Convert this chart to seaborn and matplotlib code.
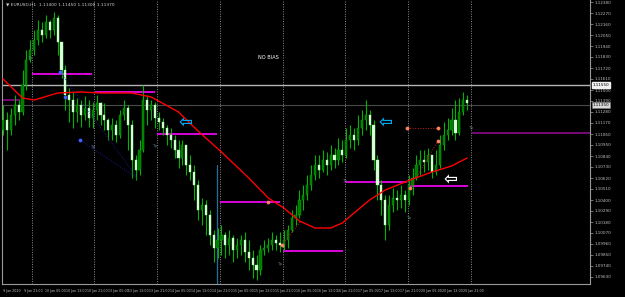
import matplotlib
matplotlib.use("Agg")
import matplotlib.pyplot as plt
import matplotlib.transforms as mtransforms
import numpy as np
import pandas as pd
import seaborn as sns

sns.set_theme(style="dark")
plt.rcParams['font.family'] = ['DejaVu Sans']

# ---------------- data (EURUSD) ----------------
first_open = 1.1110
close = [1.1120, 1.1110, 1.1125, 1.1135, 1.1128, 1.1155, 1.1180, 1.1190, 1.1200, 1.1210,
         1.1205, 1.1218, 1.1210, 1.1222, 1.1198, 1.1170, 1.1145, 1.1140, 1.1128, 1.1135,
         1.1125, 1.1132, 1.1122, 1.1130, 1.1137, 1.1125, 1.1120, 1.1110, 1.1115, 1.1105,
         1.1125, 1.1132, 1.1115, 1.1080, 1.1070, 1.1090, 1.1140, 1.1130, 1.1135, 1.1122,
         1.1118, 1.1112, 1.1105, 1.1100, 1.1090, 1.1082, 1.1095, 1.1075, 1.1068, 1.1055,
         1.1030, 1.1035, 1.1025, 1.1005, 1.0992, 1.1000, 1.1005, 1.0995, 1.1002, 1.0990,
         1.0995, 1.1000, 1.0988, 1.0982, 1.0975, 1.0970, 1.0990, 1.0992, 1.0995, 1.1000,
         1.0997, 1.0995, 1.1000, 1.1010, 1.1022, 1.1025, 1.1040, 1.1045, 1.1055, 1.1065,
         1.1075, 1.1070, 1.1080, 1.1075, 1.1085, 1.1080, 1.1090, 1.1085, 1.1100, 1.1105,
         1.1100, 1.1112, 1.1120, 1.1125, 1.1115, 1.1080, 1.1055, 1.1040, 1.1015, 1.1035,
         1.1042, 1.1040, 1.1045, 1.1040, 1.1055, 1.1062, 1.1075, 1.1080, 1.1078, 1.1085,
         1.1068, 1.1075, 1.1095, 1.1105, 1.1110, 1.1120, 1.1107, 1.1128, 1.1140, 1.1137]
high = [1.1135, 1.1128, 1.1132, 1.1145, 1.1140, 1.1170, 1.1190, 1.1200, 1.1210, 1.1220,
        1.1218, 1.1225, 1.1220, 1.1228, 1.1225, 1.1195, 1.1175, 1.1152, 1.1148, 1.1142,
        1.1140, 1.1144, 1.1140, 1.1138, 1.1145, 1.1138, 1.1137, 1.1122, 1.1122, 1.1120,
        1.1130, 1.1140, 1.1135, 1.1120, 1.1085, 1.1100, 1.1155, 1.1145, 1.1140, 1.1138,
        1.1128, 1.1122, 1.1115, 1.1112, 1.1105, 1.1100, 1.1100, 1.1095, 1.1085, 1.1075,
        1.1060, 1.1042, 1.1040, 1.1030, 1.1010, 1.1012, 1.1015, 1.1008, 1.1010, 1.1005,
        1.1002, 1.1005, 1.1008, 1.1000, 1.0990, 1.0985, 1.0995, 1.1000, 1.1002, 1.1008,
        1.1005, 1.1008, 1.1010, 1.1015, 1.1030, 1.1035, 1.1050, 1.1055, 1.1065, 1.1075,
        1.1085, 1.1085, 1.1090, 1.1088, 1.1095, 1.1092, 1.1102, 1.1100, 1.1112, 1.1115,
        1.1112, 1.1125, 1.1130, 1.1140, 1.1130, 1.1120, 1.1085, 1.1060, 1.1045, 1.1045,
        1.1052, 1.1050, 1.1055, 1.1050, 1.1065, 1.1072, 1.1085, 1.1090, 1.1090, 1.1092,
        1.1085, 1.1090, 1.1105, 1.1118, 1.1122, 1.1132, 1.1140, 1.1142, 1.1148, 1.1145]
low = [1.1105, 1.1090, 1.1105, 1.1115, 1.1120, 1.1125, 1.1150, 1.1178, 1.1185, 1.1195,
       1.1198, 1.1202, 1.1202, 1.1205, 1.1185, 1.1162, 1.1130, 1.1118, 1.1112, 1.1118,
       1.1113, 1.1120, 1.1113, 1.1112, 1.1120, 1.1115, 1.1110, 1.1100, 1.1100, 1.1098,
       1.1102, 1.1120, 1.1090, 1.1062, 1.1060, 1.1065, 1.1088, 1.1115, 1.1120, 1.1112,
       1.1110, 1.1105, 1.1095, 1.1092, 1.1082, 1.1072, 1.1075, 1.1065, 1.1060, 1.1040,
       1.1020, 1.1015, 1.1005, 1.0995, 1.0978, 1.0982, 1.0985, 1.0982, 1.0985, 1.0978,
       1.0982, 1.0985, 1.0978, 1.0970, 1.0962, 1.0960, 1.0965, 1.0985, 1.0988, 1.0990,
       1.0990, 1.0988, 1.0990, 1.0992, 1.1008, 1.1015, 1.1022, 1.1030, 1.1040, 1.1050,
       1.1060, 1.1062, 1.1068, 1.1065, 1.1070, 1.1072, 1.1075, 1.1078, 1.1082, 1.1092,
       1.1090, 1.1095, 1.1105, 1.1110, 1.1105, 1.1070, 1.1040, 1.1025, 1.1000, 1.1010,
       1.1028, 1.1030, 1.1032, 1.1028, 1.1035, 1.1045, 1.1060, 1.1065, 1.1068, 1.1070,
       1.1062, 1.1065, 1.1072, 1.1090, 1.1100, 1.1105, 1.1100, 1.1105, 1.1125, 1.1130]

# moving average (red) read at selected bars
ma_bar = [0, 5, 8, 14, 20, 25, 33, 38, 45, 50, 56, 63, 68, 72, 76, 80, 84, 87, 90, 94,
          98, 105, 110, 115, 119]
ma_val = [1.1161, 1.1142, 1.1140, 1.1147, 1.1148, 1.1147, 1.1147, 1.1143, 1.1128, 1.1109,
          1.1088, 1.1062, 1.1042, 1.1032, 1.1019, 1.1012, 1.1012, 1.1017, 1.1027, 1.1040,
          1.1050, 1.1061, 1.1068, 1.1074, 1.1082]

# daily levels (magenta / purple)
level_from = [0.0, 7.4, 23.6, 39.5, 55.6, 71.8, 87.7, 104.4, 120.3]
level_to = [4.4, 22.8, 39.0, 54.9, 71.0, 87.2, 103.6, 119.2, 150.5]
level_price = [1.1140, 1.1166, 1.1148, 1.1106, 1.1038, 1.0989, 1.1058, 1.1054, 1.1107]
level_kind = ['old', 'day', 'day', 'day', 'day', 'day', 'day', 'day', 'old']

bid_price = 1.1155
ask_price = 1.1135

day_start_bar = [7.44, 23.3, 39.5, 55.6, 71.8, 87.7, 103.9, 120.0]

time_labels = ["9 Jan 2020", "9 Jan 21:00", "10 Jan 05:00", "10 Jan 13:00", "10 Jan 21:00",
               "13 Jan 05:00", "13 Jan 13:00", "13 Jan 21:00", "14 Jan 05:00", "14 Jan 13:00",
               "14 Jan 21:00", "15 Jan 05:00", "15 Jan 13:00", "15 Jan 21:00", "16 Jan 05:00",
               "16 Jan 13:00", "16 Jan 21:00", "17 Jan 05:00", "17 Jan 13:00", "17 Jan 21:00",
               "20 Jan 05:00", "20 Jan 13:00", "20 Jan 21:00"]
price_ticks = [1.1238 - 0.0011 * k for k in range(26)]

# arrows (bar, price, colour)
arrow_bar = [46.7, 98.0, 114.6]
arrow_price = [1.1117, 1.1117, 1.1060]
arrow_col = ['#00a8f0', '#00a8f0', '#ffffff']

# ---------------- figure ----------------
W, H = 625, 297
fig = plt.figure(figsize=(W / 100, H / 100), dpi=100)
fig.patch.set_facecolor('black')
ax = fig.add_axes([2 / W, 13 / H, 588 / W, 284 / H])
ax.set_facecolor('black')

n = len(close)
bars = np.arange(n)
opens = [first_open] + close[:-1]
df = pd.DataFrame({'bar': bars, 'open': opens, 'close': close, 'high': high, 'low': low})
df['bull'] = df['close'] >= df['open']

# separators
for b in day_start_bar:
    ax.axvline(b, color='#8c8c8c', lw=0.7, ls=(0, (1, 1.5)), zorder=1)
ax.axvline(54.8, color='#1f6f9f', lw=0.9, ymin=0.0, ymax=0.42, zorder=1)

# bid / ask lines
ax.axhline(bid_price, color='#b4b4b4', lw=1.0, zorder=1)
ax.axhline(ask_price, color='#4a4a4a', lw=0.8, zorder=1)

# levels
for a, b, p, k in zip(level_from, level_to, level_price, level_kind):
    ax.plot([a, b], [p, p], color='#ff00ff' if k == 'day' else '#8a0a8a',
            lw=1.2, solid_capstyle='butt', zorder=2)

# candles
ax.vlines(df['bar'], df['low'], df['high'], color='#00b400', lw=0.8, zorder=3)
body_lo = df[['open', 'close']].min(axis=1)
body_h = (df['close'] - df['open']).abs().clip(lower=0.00008)
ax.bar(df['bar'], body_h, bottom=body_lo, width=0.55,
       color=np.where(df['bull'], '#007a00', '#dcffdc'),
       edgecolor=np.where(df['bull'], '#00b400', '#9aff9a'), linewidth=0.3, zorder=4)

# moving average
ma = pd.DataFrame({'bar': ma_bar, 'ma': ma_val})
sns.lineplot(data=ma, x='bar', y='ma', color='#ff0000', lw=1.0, ax=ax, zorder=5)

# zigzag / fib helper lines
ax.plot([14.6, 34.4], [1.1168, 1.1062], color='#2020b0', lw=0.6, ls=':', zorder=5)
ax.plot([19.7, 34.4], [1.1100, 1.1062], color='#2020b0', lw=0.6, ls=':', zorder=5)
ax.scatter([14.6, 19.7, 15.9], [1.1168, 1.1100, 1.1143], s=3, color='#4060ff', zorder=6)
ax.plot([103.6, 111.5], [1.1112, 1.1112], color='#c02020', lw=0.7, ls=':', zorder=5)
ax.plot([104.4, 111.5], [1.1052, 1.1099], color='#c02020', lw=0.7, ls=':', zorder=5)
ax.plot([71.5, 76.2], [1.0995, 1.1018], color='#c02020', lw=0.7, ls=':', zorder=5)
ax.scatter([103.6, 111.5, 111.5, 104.4, 71.5, 68.0],
           [1.1112, 1.1112, 1.1099, 1.1052, 1.0995, 1.1038],
           s=3, color='#ff8060', zorder=6)
for bx, py in [(23.1, 1.1093), (39.0, 1.1094), (71.0, 1.0976), (87.5, 1.1059),
               (103.9, 1.1022), (119.8, 1.1112), (6.9, 1.1182)]:
    ax.text(bx, py, 'Tp', color='#5f8090', fontsize=3.0, ha='center', va='center', zorder=6)

# arrows
for bx, py, c in zip(arrow_bar, arrow_price, arrow_col):
    ax.text(bx, py, '\u21E6', color=c, fontsize=12, ha='center', va='center',
            fontweight='bold', zorder=7)

ax.text(68.0, 1.1182, 'NO BIAS', color='white', fontsize=3.6, ha='center', va='center')

# axes styling
ax.set_xlim(-0.26, 150.5)
ax.set_ylim(1.0956, 1.1240)
ax.spines['top'].set_visible(False)
for s in ['left', 'right', 'bottom']:
    ax.spines[s].set_color('#9a9a9a')
    ax.spines[s].set_linewidth(0.8)
ax.yaxis.tick_right()
ax.set_yticks(price_ticks)
ax.set_yticklabels([f"{p:.5f}" for p in price_ticks])
ax.tick_params(axis='y', colors='#9a9a9a', labelcolor='#c0c0c0', labelsize=3.0,
               length=2, width=0.5, pad=1.5)
tick_pos = [k * 5.36 for k in range(len(time_labels))]
ax.set_xticks(tick_pos)
ax.set_xticklabels(time_labels)
ax.tick_params(axis='x', colors='#9a9a9a', labelcolor='#c0c0c0', labelsize=2.35,
               length=2, width=0.5, pad=1.5)
for lab in ax.get_xticklabels():
    lab.set_horizontalalignment('left')
ax.grid(False)
ax.set_xlabel('')
ax.set_ylabel('')
if ax.get_legend():
    ax.get_legend().remove()

# price boxes on the right axis
trans = mtransforms.blended_transform_factory(ax.transAxes, ax.transData)
ax.text(1.004, bid_price, f"{bid_price:.5f}", transform=trans, fontsize=3.0, color='black',
        va='center', ha='left', bbox=dict(boxstyle='square,pad=0.2', fc='#f0f0f0', ec='#f0f0f0'),
        clip_on=False, zorder=10)
ax.text(1.004, ask_price, f"{ask_price:.5f}", transform=trans, fontsize=3.0, color='black',
        va='center', ha='left', bbox=dict(boxstyle='square,pad=0.2', fc='#d8d8d8', ec='#808080', lw=0.4),
        clip_on=False, zorder=10)

fig.text(6 / W, 1 - 5 / H, '\u25BC EURUSD,H1  1.11400 1.11450 1.11300 1.11370',
         color='#d0d0d0', fontsize=3.2, ha='left', va='center')

fig.savefig('out.png', dpi=100, facecolor='black')
